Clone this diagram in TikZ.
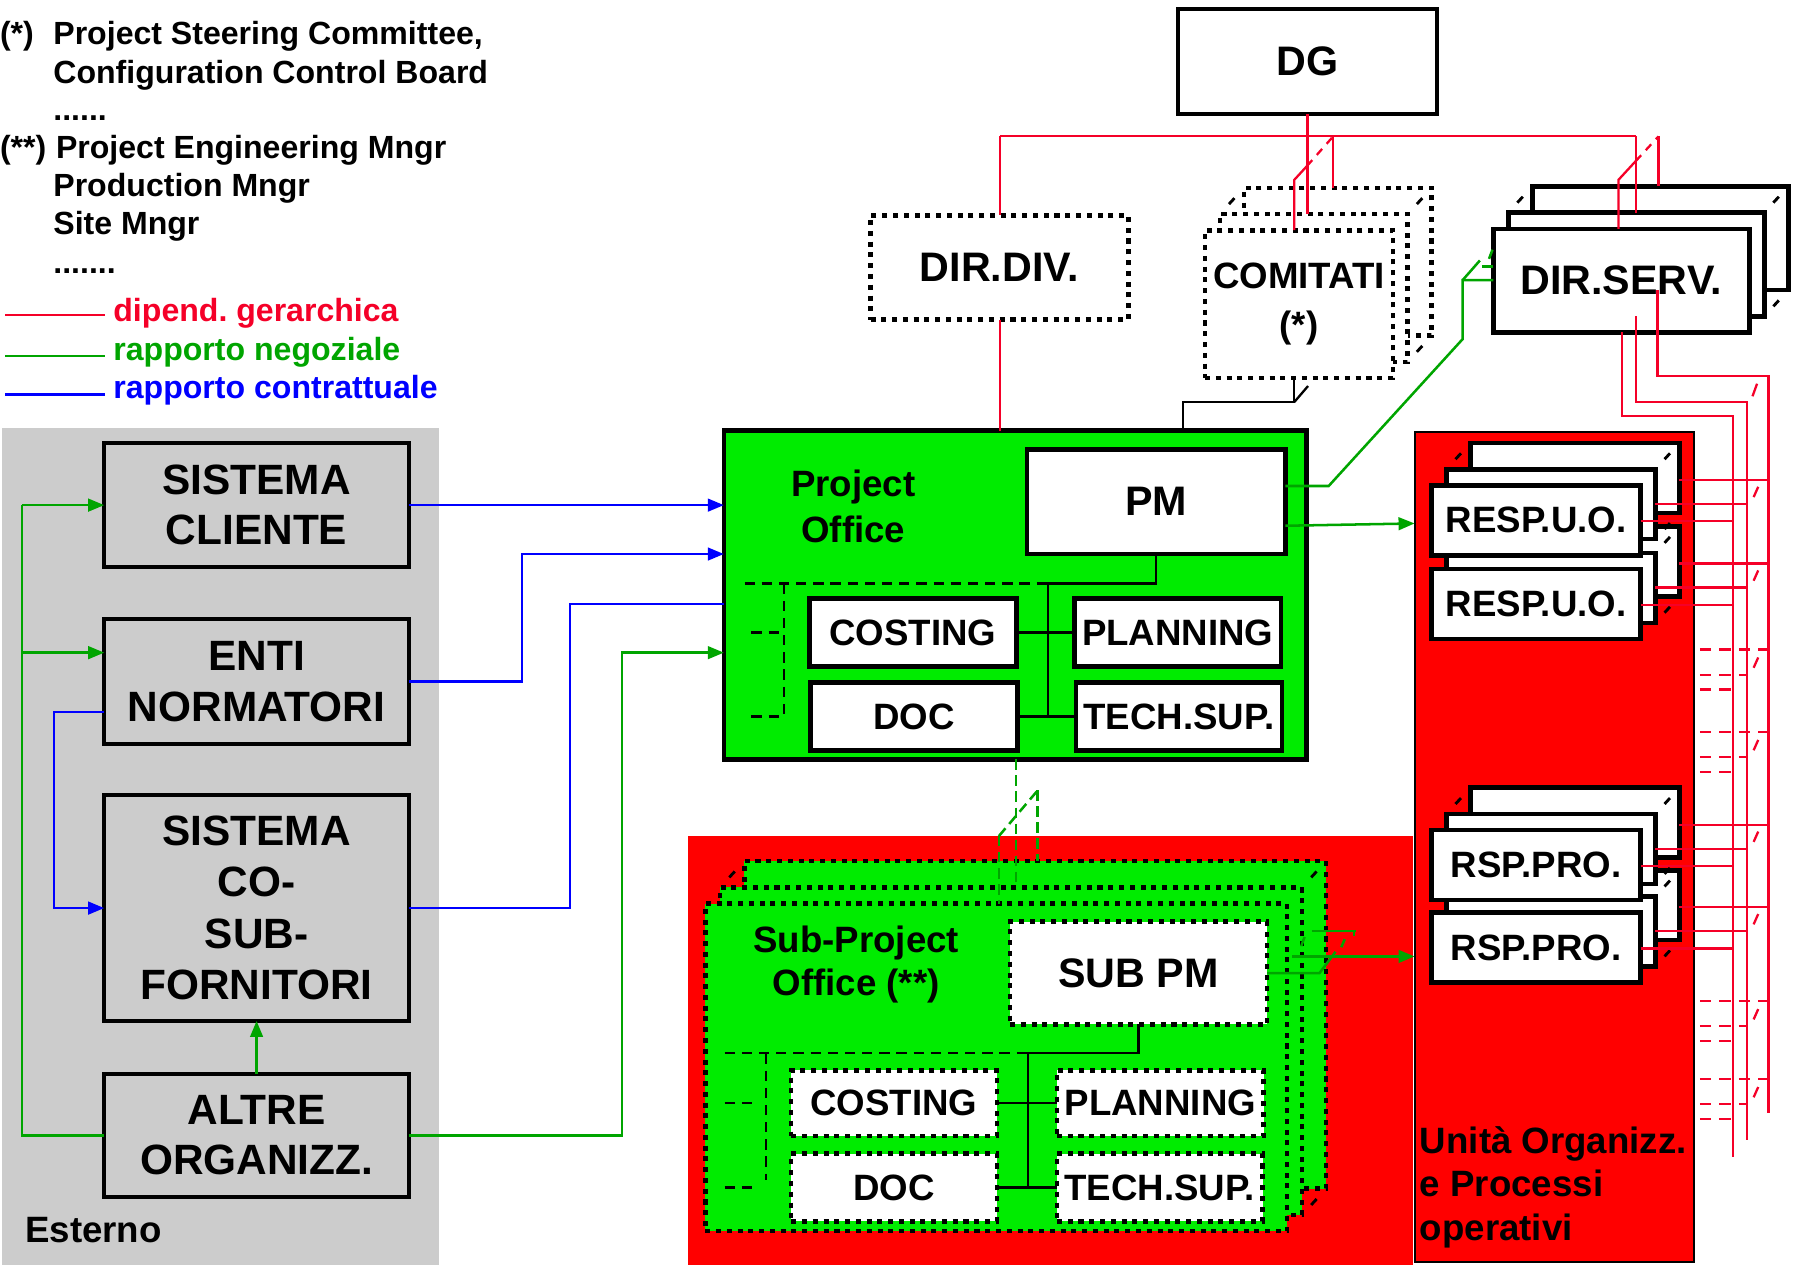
\documentclass[tikz,border=0pt]{standalone}
\usepackage{fontspec}
\setmainfont{Liberation Sans}
\usetikzlibrary{arrows.meta}
\frenchspacing
\definecolor{hred}{RGB}{245,0,40}
\definecolor{fred}{RGB}{255,0,0}
\definecolor{ngreen}{RGB}{0,165,0}
\definecolor{fgreen}{RGB}{0,236,0}
\definecolor{cblue}{RGB}{0,0,255}
\definecolor{pgray}{RGB}{204,204,204}
\newcommand\fz[2]{\fontsize{#1}{#2}\selectfont\bfseries}
% stacked 3D box: name, cx, cy, w, h, style, text
\newcommand\stk[7]{%
  \node[#6, minimum width=#4, minimum height=#5] (#1-b) at (#2+34,#3-37) {};
  \draw[diag] (#2-#4/2,#3-#5/2) -- (#1-b.north west);
  \draw[diag] (#2+#4/2,#3-#5/2) -- (#1-b.north east);
  \draw[diag] (#2+#4/2,#3+#5/2) -- (#1-b.south east);
  \node[#6, minimum width=#4, minimum height=#5] (#1-m) at (#2+13,#3-14) {};
  \node[#6, minimum width=#4, minimum height=#5] (#1-f) at (#2,#3) {#7};
}
% red lines from a stack group to the verticals
\newcommand\rl[2]{%
  \coordinate (#1-co) at (1544,#2-3);
  \coordinate (#1-cm) at (1525,#2+18);
  \coordinate (#1-cf) at (1513,#2+33);
  \draw[rcon] (#1-b.east |- #1-co) -- (#1-co);
  \draw[rcon] (#1-m.east |- #1-cm) -- (#1-cm);
  \draw[rcon] (#1-f.east |- #1-cf) -- (#1-cf);
  \draw[rcon] (1531,#2+12) -- (1535,#2+3);
}
\newcommand\rd[1]{%
  \draw[rdash] (1484,#1-3) -- (1544,#1-3);
  \draw[rdash] (1484,#1+19) -- (1525,#1+19);
  \draw[rdash] (1484,#1+32) -- (1513,#1+32);
  \draw[rcon] (1531,#1+13) -- (1535,#1+4);
}
\tikzset{
 every node/.style={inner sep=0pt, outer sep=0pt},
 box/.style={draw=black, line width=3.5pt, fill=white, align=center},
 gbox/.style={box, fill=pgray, font=\fz{37}{44}},
 sbox/.style={box, line width=4pt, font=\fz{32}{38}},
 dotbox/.style={box, line width=4pt, dash pattern=on 4.4pt off 5pt},
 gdot/.style={dotbox, fill=fgreen},
 ddot/.style={dotbox, font=\fz{32}{38}},
 diag/.style={draw=black, line width=2.5pt, dash pattern=on 0pt off 31pt on 7pt off 200pt},
 rcon/.style={draw=hred, line width=2pt},
 rdash/.style={rcon, dash pattern=on 10pt off 7pt},
 gcon/.style={draw=ngreen, line width=2.2pt},
 gdash/.style={gcon, dash pattern=on 9pt off 5pt},
 bcon/.style={draw=cblue, line width=2.2pt},
 kcon/.style={draw=black, line width=2pt},
 kdash/.style={kcon, dash pattern=on 9pt off 6pt},
 arr/.style={-{Triangle[length=14pt,width=11pt]}},
 lbl/.style={anchor=base west, font=\fz{28}{34}},
 tx/.style={anchor=base west, font=\fz{32}{38}},
}
\begin{document}
\begin{tikzpicture}[x=1pt,y=-1pt]
\useasboundingbox (0,0) rectangle (1568,1107);
% backgrounds
\fill[pgray] (2,374) rectangle (383,1104);
\fill[fred] (600.7,730) rectangle (1234,1104);
\node[draw=black, line width=1.8pt, fill=fred, minimum width=244, minimum height=724] (uo) at (1357,739.5) {};

% legend
\node[lbl] (n1) at (0,39) {(*)};
\node[lbl] (n2) at (46.6,39) {Project Steering Committee,};
\node[lbl] (n3) at (46.6,72.7) {Configuration Control Board};
\node[lbl] (n4) at (46.6,104.8) {......};
\node[lbl] (n5) at (0,138.2) {(**)};
\node[lbl] (n6) at (48.9,138.2) {Project Engineering Mngr};
\node[lbl] (n7) at (46.6,171.7) {Production Mngr};
\node[lbl] (n8) at (46.6,205) {Site Mngr};
\node[lbl] (n9) at (46.6,238.6) {.......};
\coordinate (k1a) at (4.4,275); \coordinate (k1b) at (91.7,275);
\draw[rcon] (k1a) -- (k1b);
\node[lbl, text=hred] (t1) at (99,280.8) {dipend. gerarchica};
\coordinate (k2a) at (4.4,310.8); \coordinate (k2b) at (91.7,310.8);
\draw[gcon] (k2a) -- (k2b);
\node[lbl, text=ngreen] (t2) at (99,314.3) {rapporto negoziale};
\coordinate (k3a) at (4.4,344.3); \coordinate (k3b) at (91.7,344.3);
\draw[bcon] (k3a) -- (k3b);
\node[lbl, text=cblue] (t3) at (99,347.8) {rapporto contrattuale};

% external boxes
\node[gbox, minimum width=266, minimum height=108] (cli) at (224,441) {SISTEMA\\CLIENTE};
\node[gbox, minimum width=266, minimum height=109] (enti) at (224,595.2) {ENTI\\NORMATORI};
\node[gbox, font=\fz{37}{45}, minimum width=266, minimum height=197] (sco) at (224,792.8) {SISTEMA\\CO-\\SUB-\\FORNITORI};
\node[gbox, minimum width=266, minimum height=107.5] (alt) at (224,991.2) {ALTRE\\ORGANIZZ.};
\node[tx] (est) at (22,1084.5) {Esterno};

\coordinate (gv1) at (19.2,991.2);
\coordinate (gv2) at (19.2,441);
\coordinate (gv3) at (19.2,569.8);
\draw[gcon] (alt.west) -- (gv1) -- (gv2);
\draw[gcon,arr] (gv2) -- (cli.west);
\draw[gcon,arr] (gv3) -- (enti.west |- gv3);
\coordinate (bv1) at (47.3,621.6);
\coordinate (bv2) at (47.3,792.8);
\draw[bcon,arr] (enti.west |- bv1) -- (bv1) -- (bv2) -- (sco.west);
\draw[gcon,arr] (alt.north) -- (sco.south);

% top management
\node[box, font=\fz{36}{43}, minimum width=225.5, minimum height=91.5] (dg) at (1141.5,53.5) {DG};
\node[dotbox, font=\fz{36}{43}, minimum width=225, minimum height=91] (dd) at (872.5,233.5) {DIR.DIV.};
\stk{cm}{1134}{265.5}{164}{129}{dotbox, font=\fz{32}{43}}{COMITATI\\(*)}
\stk{ds}{1415.5}{245}{223.5}{90.5}{box, line width=4pt, font=\fz{36}{43}}{DIR.SERV.}

% project office
\node[box, fill=fgreen, line width=4pt, minimum width=508.6, minimum height=287] (po) at (886.3,519.5) {};
\node[font=\fz{32}{40}, align=center] (pot) at (745,442) {Project\\Office};
\node[box, line width=4pt, font=\fz{36}{43}, minimum width=225.5, minimum height=91.5] (pm) at (1009.5,438) {PM};
\node[sbox, minimum width=180.5, minimum height=59] (cost) at (797,552.25) {COSTING};
\node[sbox, minimum width=180, minimum height=59] (plan) at (1028.25,552.25) {PLANNING};
\node[sbox, minimum width=180.5, minimum height=59.5] (doc) at (798,625.5) {DOC};
\node[sbox, minimum width=180, minimum height=59.5] (tech) at (1029.25,625.5) {TECH.SUP.};
\coordinate (pj) at (914.8,509.5);
\coordinate (pjb) at (914.8,625.5);
\draw[kcon] (pm.south) |- (pj) -- (pjb);
\draw[kcon] (cost.east) -- (plan.west);
\draw[kcon] (doc.east) -- (tech.west);
\coordinate (pd1) at (650,509.5); \coordinate (pd2) at (684.5,509.5); \coordinate (pd3) at (684.5,625.5);
\draw[kdash] (pd1) -- (pj);
\draw[kdash] (pd2) -- (pd3);
\coordinate (pd4) at (656,552.25); \coordinate (pd5) at (656,625.5);
\draw[kdash] (pd4) -- (pd4 -| pd2);
\draw[kdash] (pd5) -- (pd3);

% connectors from external
\draw[bcon,arr] (cli.east) -- (po.west |- cli.east);
\coordinate (be1) at (455.8,483.7);
\draw[bcon,arr] (enti.east) -| (be1) -- (po.west |- be1);
\coordinate (bs1) at (497.8,527.2);
\draw[bcon] (sco.east) -| (bs1) -- (po.west |- bs1);
\coordinate (ga1) at (543,569.8);
\draw[gcon,arr] (alt.east) -| (ga1) -- (po.west |- ga1);

% sub-project office
\stk{sp}{869.75}{931.8}{508}{286}{gdot}{}
\node[font=\fz{32}{38}, align=center] (spt) at (747.5,842) {Sub-Project\\Office (**)};
\node[dotbox, font=\fz{36}{43}, minimum width=224.5, minimum height=89.5] (spm) at (994,849.5) {SUB PM};
\node[ddot, minimum width=179.5, minimum height=57.5] (c2n) at (780.5,963.1) {COSTING};
\node[ddot, minimum width=180.5, minimum height=57.5] (p2n) at (1013,963.1) {PLANNING};
\node[ddot, minimum width=179.5, minimum height=59] (d2n) at (780.5,1036.75) {DOC};
\node[ddot, minimum width=179.5, minimum height=59] (t2n) at (1012.5,1036.75) {TECH.SUP.};
\coordinate (sj) at (897.5,919.6); \coordinate (sjb) at (897.5,1036.75);
\draw[kcon] (spm.south) |- (sj) -- (sjb);
\draw[kcon] (c2n.east) -- (p2n.west);
\draw[kcon] (d2n.east) -- (t2n.west);
\coordinate (sd1) at (632.6,919.6); \coordinate (sd2) at (668.8,919.6); \coordinate (sd3) at (668.8,1030);
\draw[kdash] (sd1) -- (sj);
\draw[kdash] (sd2) -- (sd3);
\coordinate (sd4) at (632.6,963.1); \coordinate (sd5) at (660,963.1);
\coordinate (sd6) at (632.6,1036.75); \coordinate (sd7) at (660,1036.75);
\draw[kdash] (sd4) -- (sd5);
\draw[kdash] (sd6) -- (sd7);

% PO -> SPO green dashed
\coordinate (gq1) at (887,774.8);
\draw[gdash] (po.south -| gq1) -- (gq1);
\coordinate (gq2) at (906,690); \coordinate (gq3) at (872,730);
\draw[gdash] (gq2) -- (sp-b.north -| gq2);
\draw[gdash] (gq3) -- (gq2);
\draw[gdash] (gq3) -- (sp-f.north -| gq3);

% operative units
\stk{u2}{1341}{527.25}{182.5}{61}{sbox}{RESP.U.O.}
\stk{u1}{1341}{454.25}{182.5}{61}{sbox}{RESP.U.O.}
\stk{q2}{1341}{827.25}{182.5}{61}{sbox}{RSP.PRO.}
\stk{q1}{1341}{755.25}{182.5}{61}{sbox}{RSP.PRO.}
\node[tx] (uo1) at (1239.7,1007) {Unità Organizz.};
\node[tx] (uo2) at (1239.7,1044.8) {e Processi};
\node[tx] (uo3) at (1239.7,1083) {operativi};

% red hierarchy lines
\coordinate (h1) at (873,119); \coordinate (h2) at (1428,119);
\draw[rcon] (h1) -- (h2);
\draw[rcon] (h1) -- (dd.north -| h1);
\draw[rcon] (dd.south -| h1) -- (po.north -| h1);
\draw[rcon] (dg.south) -- (cm-m.north -| dg.south);
\coordinate (c3) at (1164,119);
\draw[rcon] (c3) -- (cm-b.north -| c3);
\coordinate (c1) at (1130,157); \coordinate (c2) at (1141,145);
\draw[rcon] (cm-f.north -| c1) -- (c1) -- (c2);
\draw[rcon, dash pattern=on 7pt off 6pt] (c2) -- (c3);
\draw[rcon] (h2) -- (ds-m.north -| h2);
\coordinate (d1) at (1413,157); \coordinate (d2) at (1428,140.7); \coordinate (d3) at (1448,119);
\draw[rcon] (ds-f.north -| d1) -- (d1) -- (d2);
\draw[rcon, dash pattern=on 7pt off 6pt] (d2) -- (d3);
\draw[rcon] (d3) -- (ds-b.north -| d3);

\coordinate (r1a) at (1416,363); \coordinate (r1b) at (1513,363); \coordinate (r1c) at (1513,1010);
\draw[rcon] (ds-f.south -| r1a) -- (r1a) -- (r1b) -- (r1c);
\coordinate (r2a) at (1428,351); \coordinate (r2b) at (1525,351); \coordinate (r2c) at (1525,995);
\draw[rcon] (ds-m.south -| r2a) -- (r2a) -- (r2b) -- (r2c);
\coordinate (r3a) at (1447,328); \coordinate (r3b) at (1544,328); \coordinate (r3c) at (1544,972);
\draw[rcon] (ds-b.south -| r3a) -- (r3a) -- (r3b) -- (r3c);
\draw[rcon] (1530,346) -- (1534,335);
\rl{u1}{422}
\rl{u2}{495}
\rl{q1}{723}
\rl{q2}{795}
\rd{570}
\rd{642}
\rd{877}
\rd{945}

% comitati -> PO
\coordinate (cb1) at (1130,351); \coordinate (cb2) at (1033,351); \coordinate (cb3) at (1142,337);
\draw[kcon] (cm-f.south -| cb1) -- (cb1) -- (cb2) -- (po.north -| cb2);
\draw[kcon] (cb1) -- (cb3);

% PM green links
\coordinate (g1) at (1160,424.3); \coordinate (g2) at (1277,296); \coordinate (g3) at (1277,244.5);
\draw[gcon] (pm.east |- g1) -- (g1) -- (g2) -- (g3) -- (ds-f.west |- g3);
\coordinate (g6) at (1292,227.4); \coordinate (g7) at (1293.7,232.8);
\draw[gcon] (g3) -- (g6);
\draw[gcon] (g7) -- (ds-f.west |- g7);
\draw[gcon] (1300,226) -- (1303,218);
\coordinate (g4) at (1124,459); \coordinate (g5) at (1233,457);
\draw[gcon,arr] (pm.east |- g4) -- (uo.west |- g5);

% SUB PM green links
\coordinate (s1) at (1152,849.5); \coordinate (s2) at (1166,831);
\draw[gcon] (spm.east) -- (s1) -- (s2);
\coordinate (s3) at (1128,835);
\draw[gcon,arr] (s3) -- (uo.west |- s3);
\coordinate (s4) at (1145,813); \coordinate (s5) at (1184,813);
\draw[gcon] (s4) -- (s5);
\draw[gcon] (1182,813) -- (1182,817);
\draw[gcon] (1136,826) -- (1139,818);
\draw[gcon] (1171,827) -- (1174,820);
\end{tikzpicture}
\end{document}
